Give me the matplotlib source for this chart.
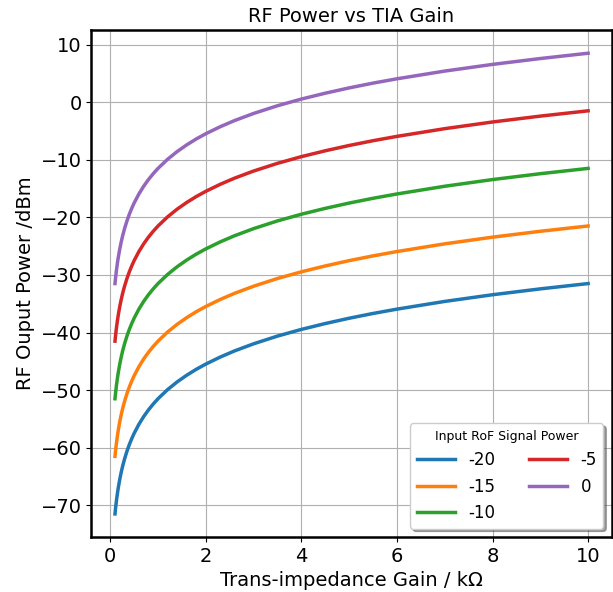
import numpy as np
import matplotlib.pyplot as plt

# trans-impedance gain / kOhm
gain = [0.1, 0.11, 0.12, 0.13, 0.15, 0.17, 0.2, 0.23, 0.26, 0.3, 0.35, 0.4, 0.45, 0.5,
        0.6, 0.7, 0.8, 0.9, 1.0, 1.2, 1.4, 1.6, 1.8, 2.0, 2.3, 2.6, 3.0, 3.5, 4, 4.5,
        5, 5.5, 6, 7, 8, 9, 10]

# RF output power / dBm, one list per input RoF power
p_m20 = [-71.50, -70.67, -69.92, -69.22, -67.98, -66.89, -65.48, -64.27, -63.20, -61.96,
         -60.62, -59.46, -58.44, -57.52, -55.94, -54.60, -53.44, -52.42, -51.50, -49.92,
         -48.58, -47.42, -46.39, -45.48, -44.27, -43.20, -41.96, -40.62, -39.46, -38.44,
         -37.52, -36.69, -35.94, -34.60, -33.44, -32.42, -31.50]
p_m15 = [-61.50, -60.67, -59.92, -59.22, -57.98, -56.89, -55.48, -54.27, -53.20, -51.96,
         -50.62, -49.46, -48.44, -47.52, -45.94, -44.60, -43.44, -42.42, -41.50, -39.92,
         -38.58, -37.42, -36.39, -35.48, -34.27, -33.20, -31.96, -30.62, -29.46, -28.44,
         -27.52, -26.69, -25.94, -24.60, -23.44, -22.42, -21.50]
p_m10 = [-51.50, -50.67, -49.92, -49.22, -47.98, -46.89, -45.48, -44.27, -43.20, -41.96,
         -40.62, -39.46, -38.44, -37.52, -35.94, -34.60, -33.44, -32.42, -31.50, -29.92,
         -28.58, -27.42, -26.39, -25.48, -24.27, -23.20, -21.96, -20.62, -19.46, -18.44,
         -17.52, -16.69, -15.94, -14.60, -13.44, -12.42, -11.50]
p_m5 = [-41.50, -40.67, -39.92, -39.22, -37.98, -36.89, -35.48, -34.27, -33.20, -31.96,
        -30.62, -29.46, -28.44, -27.52, -25.94, -24.60, -23.44, -22.42, -21.50, -19.92,
        -18.58, -17.42, -16.39, -15.48, -14.27, -13.20, -11.96, -10.62, -9.46, -8.44,
        -7.52, -6.69, -5.94, -4.60, -3.44, -2.42, -1.50]
p_0 = [-31.50, -30.67, -29.92, -29.22, -27.98, -26.89, -25.48, -24.27, -23.20, -21.96,
       -20.62, -19.46, -18.44, -17.52, -15.94, -14.60, -13.44, -12.42, -11.50, -9.92,
       -8.58, -7.42, -6.39, -5.48, -4.27, -3.20, -1.96, -0.62, 0.54, 1.56,
       2.48, 3.31, 4.06, 5.40, 6.56, 7.58, 8.50]
labels = ['-20', '-15', '-10', '-5', '0']

fig = plt.figure(figsize=(6.13, 5.92), dpi=100)
ax = fig.add_axes([0.149, 0.093, 0.849, 0.856])

for y, lab in zip([p_m20, p_m15, p_m10, p_m5, p_0], labels):
    ax.plot(gain, y, linewidth=2.5, label=lab)

ax.grid(True, color='#b0b0b0', linewidth=0.8)
for s in ax.spines.values():
    s.set_linewidth(1.8)
ax.tick_params(labelsize=14)
ax.set_title('RF Power vs TIA Gain', fontsize=14)
ax.set_xlabel('Trans-impedance Gain / kΩ', fontsize=14)
ax.set_ylabel('RF Ouput Power /dBm', fontsize=14)
ax.set_xticks([0, 2, 4, 6, 8, 10])
ax.set_yticks([10, 0, -10, -20, -30, -40, -50, -60, -70])

leg = ax.legend(title='Input RoF Signal Power', ncol=2, loc='lower right',
                fontsize=12, title_fontsize=9, handlelength=2.3,
                shadow=True, framealpha=1)

fig.savefig('out.png', dpi=100)
